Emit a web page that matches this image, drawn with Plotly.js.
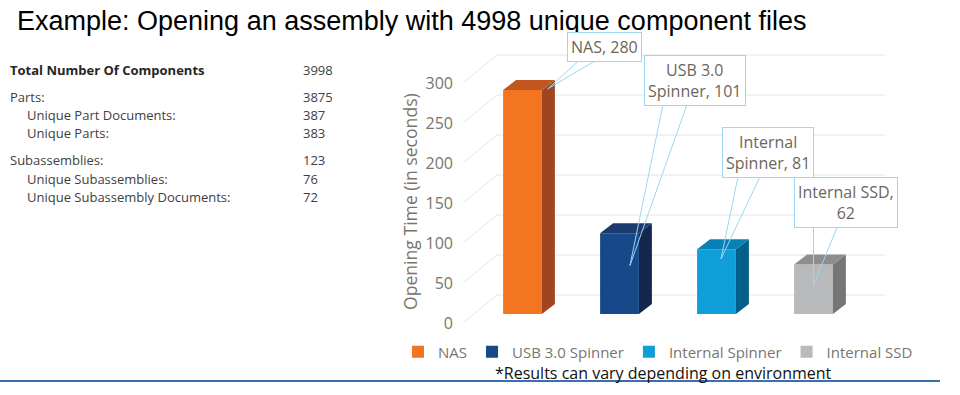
<!DOCTYPE html>
<html><head><meta charset="utf-8">
<script src="https://cdn.plot.ly/plotly-3.0.1.min.js"></script>
<style>html,body{margin:0;padding:0;background:#fff;} #chart{width:960px;height:395px;}</style>
</head><body><div id="chart"></div>
<script>
// ---- data ----
const categories = ['NAS', 'USB 3.0 Spinner', 'Internal Spinner', 'Internal SSD'];
const openingSeconds = [280, 101, 81, 62];
const calloutLabels = ['NAS, 280', 'USB 3.0<br>Spinner, 101', 'Internal<br>Spinner, 81', 'Internal SSD,<br>62'];
const yTickValues = [0, 50, 100, 150, 200, 250, 300];
const tableLabels = ['Total Number Of Components', 'Parts:', 'Unique Part Documents:', 'Unique Parts:', 'Subassemblies:', 'Unique Subassemblies:', 'Unique Subassembly Documents:'];
const tableValues = ['3998', '3875', '387', '383', '123', '76', '72'];
const tableIndent = [0, 0, 1, 1, 0, 1, 1];
const tableBold = [true, false, false, false, false, false, false];
const tableGroup = [0, 1, 1, 1, 2, 2, 2];
const titleText = 'Example: Opening an assembly with 4998 unique component files';
const footnote = '*Results can vary depending on environment';
const yTitle = 'Opening Time (in seconds)';

// ---- styles / geometry ----
const frontColors = ['#F37421', '#17498A', '#0F9ED8', '#B7B9BA'];
const sideColors = ['#9F4520', '#14284F', '#025F8A', '#767676'];
const topColors = ['#C25520', '#1C3A6B', '#0A81B4', '#8D8D8D'];
const M = {l: 462, r: 30, t: 40, b: 65};
const plotW = 960 - M.l - M.r, plotH = 395 - M.t - M.b;
const pxX = 97, pxY = 0.8;
const x0px = 60.5;          // px from plot left to first category centre
const base0px = 16;         // px from plot bottom to bar baseline
const xRange = [-x0px / pxX, (plotW - x0px) / pxX];
const yRange = [-base0px / pxY, (plotH - base0px) / pxY];
const barW = 0.40, depthX = 13 / pxX, depthY = 10 / pxY;
const frontShift = -9 / pxY, backShift = 19 / pxY;
const wallFrontX = -0.613, wallBackX = -0.263, wallRightX = 3.737;
const tipDx = [0.26, 0.108, 0.046, 0.0];
const tipFrac = [1.005, 0.60, 0.85, 0.58];
const calloutAx = [57, 65, 47, 32];
const calloutAy = [-42, -185, -106, -83];
const wedgeA = [[32, -29], [33, -161], [17, -82], [0, -59]];
const wedgeB = [[49, -29], [57, -161], [39, -82], [24, -59]];
const textGray = '#6B665C', axisGray = '#7A756C', callBlue = '#9BD7F2', gridGray = '#E4E4E4';

const px2paperX = p => (p - M.l) / plotW;
const px2paperY = p => (M.t + plotH - p) / plotH;

// ---- traces ----
const traces = [];
categories.forEach((c, i) => {
  traces.push({type: 'bar', x: [i], y: [openingSeconds[i]], width: [barW], name: c,
    marker: {color: frontColors[i], line: {width: 0}}, hoverinfo: 'name+y'});
});
categories.forEach((c, i) => {
  const v = openingSeconds[i], xr = i + barW / 2, xl = i - barW / 2;
  traces.push({type: 'scatter', mode: 'lines', fill: 'toself', fillcolor: sideColors[i],
    line: {width: 0, color: sideColors[i]}, showlegend: false, hoverinfo: 'skip',
    x: [xr, xr + depthX, xr + depthX, xr, xr], y: [0, depthY, v + depthY, v, 0]});
  traces.push({type: 'scatter', mode: 'lines', fill: 'toself', fillcolor: topColors[i],
    line: {width: 0, color: topColors[i]}, showlegend: false, hoverinfo: 'skip',
    x: [xl, xr, xr + depthX, xl + depthX, xl], y: [v, v, v + depthY, v + depthY, v]});
});

// ---- shapes: back wall grid + floor diagonals + footer rule ----
const shapes = [];
yTickValues.forEach(v => {
  shapes.push({type: 'line', layer: 'below', xref: 'x', yref: 'y', x0: wallFrontX, y0: v + frontShift,
    x1: wallBackX, y1: v + backShift, line: {color: gridGray, width: 1}});
  shapes.push({type: 'line', layer: 'below', xref: 'x', yref: 'y', x0: wallBackX, y0: v + backShift,
    x1: wallRightX, y1: v + backShift, line: {color: gridGray, width: 1}});
});
shapes.push({type: 'line', xref: 'paper', yref: 'paper', x0: px2paperX(0), x1: px2paperX(940),
  y0: px2paperY(381), y1: px2paperY(381), line: {color: '#3A6FB0', width: 2}});

// ---- annotations ----
const annotations = [];
categories.forEach((c, i) => {
  const tip = {xref: 'x', yref: 'y', x: i + tipDx[i], y: openingSeconds[i] * tipFrac[i]};
  [wedgeA[i], wedgeB[i]].forEach(w => {
    annotations.push(Object.assign({}, tip, {text: ' ', showarrow: true, arrowhead: 0, arrowwidth: 1,
      arrowcolor: callBlue, ax: w[0], ay: w[1], borderpad: 0, font: {size: 1}}));
  });
});
categories.forEach((c, i) => {
  annotations.push({xref: 'x', yref: 'y', x: i + tipDx[i], y: openingSeconds[i] * tipFrac[i],
    text: calloutLabels[i], showarrow: true, arrowhead: 0, arrowwidth: 0.1, arrowcolor: 'rgba(0,0,0,0)',
    ax: calloutAx[i], ay: calloutAy[i], bgcolor: '#FFFFFF', bordercolor: callBlue, borderwidth: 1,
    borderpad: 3, align: 'center', font: {family: 'Open Sans', size: 16, color: textGray}});
});
tableLabels.forEach((t, i) => {
  const py = 70 + i * 18.2 + tableGroup[i] * 8.8;
  annotations.push({xref: 'paper', yref: 'paper', x: px2paperX(tableIndent[i] ? 25 : 8), y: px2paperY(py),
    xanchor: 'left', yanchor: 'middle', showarrow: false,
    text: tableBold[i] ? '<b>' + t + '</b>' : t,
    font: {family: 'Open Sans', size: 13, color: tableBold[i] ? '#262626' : '#404040'}});
  annotations.push({xref: 'paper', yref: 'paper', x: px2paperX(301), y: px2paperY(py),
    xanchor: 'left', yanchor: 'middle', showarrow: false, text: tableValues[i],
    font: {family: 'Open Sans', size: 13, color: '#404040'}});
});
annotations.push({xref: 'paper', yref: 'paper', x: px2paperX(663), y: px2paperY(373),
  xanchor: 'center', yanchor: 'middle', showarrow: false, text: footnote,
  font: {family: 'Open Sans', size: 16, color: '#111111'}});
annotations.push({xref: 'paper', yref: 'paper', x: px2paperX(410), y: px2paperY(202),
  xanchor: 'center', yanchor: 'middle', showarrow: false, textangle: -90, text: yTitle,
  font: {family: 'Open Sans', size: 17.6, color: axisGray}});

const layout = {
  width: 960, height: 395, margin: M,
  paper_bgcolor: '#FFFFFF', plot_bgcolor: 'rgba(0,0,0,0)',
  barmode: 'overlay', showlegend: true,
  title: {text: titleText, xref: 'container', yref: 'container', x: 17 / 960, xanchor: 'left',
    y: 1 - 21 / 395, yanchor: 'middle', font: {family: 'Liberation Sans, Arial', size: 27, color: '#000000'}},
  xaxis: {range: xRange, visible: false, fixedrange: true},
  yaxis: {range: yRange, visible: false, fixedrange: true},
  yaxis2: {overlaying: 'y', anchor: 'x', side: 'left', range: [yRange[0] - frontShift, yRange[1] - frontShift],
    tickvals: yTickValues, showgrid: false, zeroline: false, showline: false, ticks: '',
    ticklabelstandoff: 8, tickfont: {family: 'Open Sans', size: 16, color: axisGray}, automargin: false},
  legend: {orientation: 'h', x: px2paperX(398), xanchor: 'left', y: px2paperY(352), yanchor: 'middle',
    font: {family: 'Open Sans', size: 15, color: axisGray}, itemwidth: 30, bgcolor: 'rgba(0,0,0,0)'},
  shapes: shapes, annotations: annotations
};
// empty trace that activates the tick-label axis
traces.push({type: 'scatter', x: [null], y: [null], yaxis: 'y2', showlegend: false, hoverinfo: 'skip'});

Plotly.newPlot('chart', traces, layout, {displayModeBar: false, staticPlot: true});
</script></body></html>
